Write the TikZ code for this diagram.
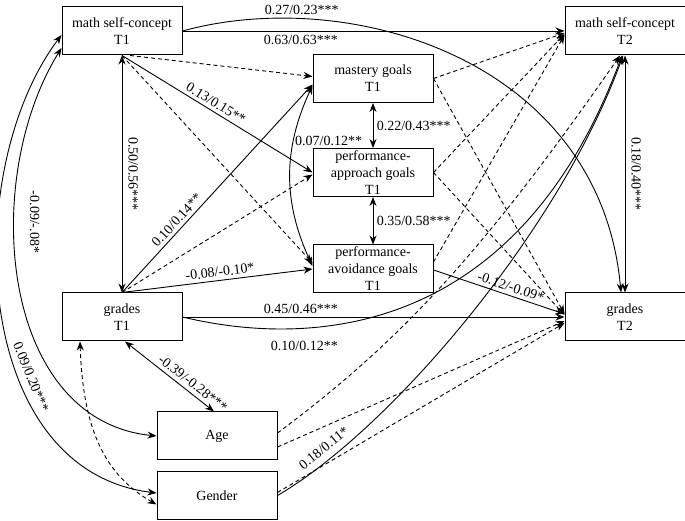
\documentclass[tikz,border=0pt]{standalone}
\usepackage{fontspec}
\setmainfont{Liberation Serif}
\usetikzlibrary{arrows.meta}

\tikzset{
  var/.style={draw,line width=1pt,minimum width=120pt,minimum height=48pt,
    align=center,inner sep=0pt},
  arr/.style={-{Stealth[length=9pt,width=7pt]},line width=.9pt},
  biarr/.style={{Stealth[length=9pt,width=7pt]}-{Stealth[length=9pt,width=7pt]},line width=.9pt},
  dsh/.style={arr,dash pattern=on 4pt off 3pt},
  bidsh/.style={biarr,dash pattern=on 4pt off 3pt}
}

\begin{document}
\begin{tikzpicture}[x=1pt,y=1pt,font=\fontsize{14}{17}\selectfont]
\useasboundingbox (0,0) rectangle (685,521);
%
% variables
\node[var] (msca) at (122,490) {math self-concept\\T1};
\node[var] (mscb) at (625,490) {math self-concept\\T2};
\node[var] (mast) at (373,442.5) {mastery goals\\T1};
\node[var] (appr) at (373,348.5) {performance-\\approach goals\\T1};
\node[var] (avoi) at (373,252) {performance-\\avoidance goals\\T1};
\node[var] (grda) at (122,204) {grades\\T1};
\node[var] (grdb) at (625,204) {grades\\T2};
\node[var] (age) at (217,85) {Age};
\node[var] (gend) at (217,25.5) {Gender};
%
% stabilities and cross-lagged paths
\draw[arr] (msca.east) -- node[below,pos=.31] {0.63/0.63***} (mscb.west);
\draw[arr] (msca.east) .. controls (350,536) and (600,461) .. node[above,pos=.22] {0.27/0.23***} ([xshift=-4pt]grdb.north);
\draw[arr] (grda.east) -- node[above,pos=.31] {0.45/0.46***} (grdb.west);
\draw[arr] (grda.east) .. controls (320,171) and (520,191) .. node[below,pos=.27,inner sep=5pt,yshift=-8pt] {0.10/0.12**} ([xshift=-3pt]mscb.south);
\draw[biarr] (msca.south) -- node[midway,rotate=-90,anchor=south,inner sep=6pt] {0.50/0.56***} (grda.north);
\draw[biarr] (mscb.south) -- node[midway,rotate=-90,anchor=south,inner sep=6pt] {0.18/0.40***} (grdb.north);
%
% T1 -> goals
\draw[arr] (msca.south) -- node[sloped,above,pos=.47] {0.13/0.15**} (appr.west);
\draw[dsh] ([xshift=8pt]msca.south) -- ([yshift=2pt]mast.west);
\draw[dsh] (msca.south) -- ([yshift=6pt]avoi.west);
\draw[arr] (grda.north) -- node[sloped,above,pos=.32] {0.10/0.14**} ([yshift=-6pt]mast.west);
\draw[dsh] (grda.north) -- ([yshift=-2pt]appr.west);
\draw[arr] (grda.north) -- node[sloped,above,pos=.52] {-0.08/-0.10*} (avoi.west);
%
% goals among each other
\draw[biarr] (mast.south) -- node[right] {0.22/0.43***} (appr.north);
\draw[biarr] (appr.south) -- node[right] {0.35/0.58***} (avoi.north);
\draw[biarr] ([yshift=-7pt]mast.west) to[bend right=25] node[pos=.3,anchor=west,inner sep=1pt] {0.07/0.12**} ([yshift=3pt]avoi.west);
%
% goals -> T2
\draw[dsh] (mast.east) -- ([yshift=-2pt]mscb.west);
\draw[dsh] (mast.east) -- ([yshift=3pt]grdb.west);
\draw[dsh] (appr.east) -- ([yshift=-3pt]mscb.west);
\draw[dsh] (appr.east) -- ([yshift=2pt]grdb.west);
\draw[dsh] ([yshift=7pt]avoi.east) -- ([yshift=-4pt]mscb.west);
\draw[arr] ([yshift=-1pt]avoi.east) -- node[sloped,above,pos=.57] {-0.12/-0.09*} ([yshift=3pt]grdb.west);
%
% covariates
\draw[biarr] ([xshift=3pt]grda.south) -- node[sloped,above,pos=.7,inner sep=4pt] {-0.39/-0.28***} ([xshift=-3pt]age.north);
\draw[biarr] ([yshift=-17pt]msca.west) .. controls (-20,341) and (0,101) .. node[pos=.37,rotate=-90,anchor=south,inner sep=15pt] {-0.09/-.08*} (age.west);
\draw[biarr] ([yshift=-4pt]msca.west) .. controls (-40,351) and (-30,51) .. node[sloped,above,pos=.64,inner sep=6pt] {0.09/0.20***} ([yshift=2.5pt]gend.west);
\draw[bidsh] ([xshift=-42pt]grda.south) .. controls (83,91) and (105,46) .. ([yshift=-9pt]gend.west);
\draw[dsh] ([yshift=3pt]age.east) .. controls (407,184) and (490,279) .. ([xshift=-5pt]mscb.south);
\draw[dsh] ([yshift=-11pt]age.east) -- ([yshift=-4pt]grdb.west);
\draw[arr] (gend.east) .. controls (390,91) and (560,291) .. node[sloped,above,pos=.15,inner sep=7pt] {0.18/0.11*} ([xshift=-2pt]mscb.south);
\draw[dsh] ([yshift=3pt]gend.east) -- ([yshift=-6pt]grdb.west);
\end{tikzpicture}
\end{document}
